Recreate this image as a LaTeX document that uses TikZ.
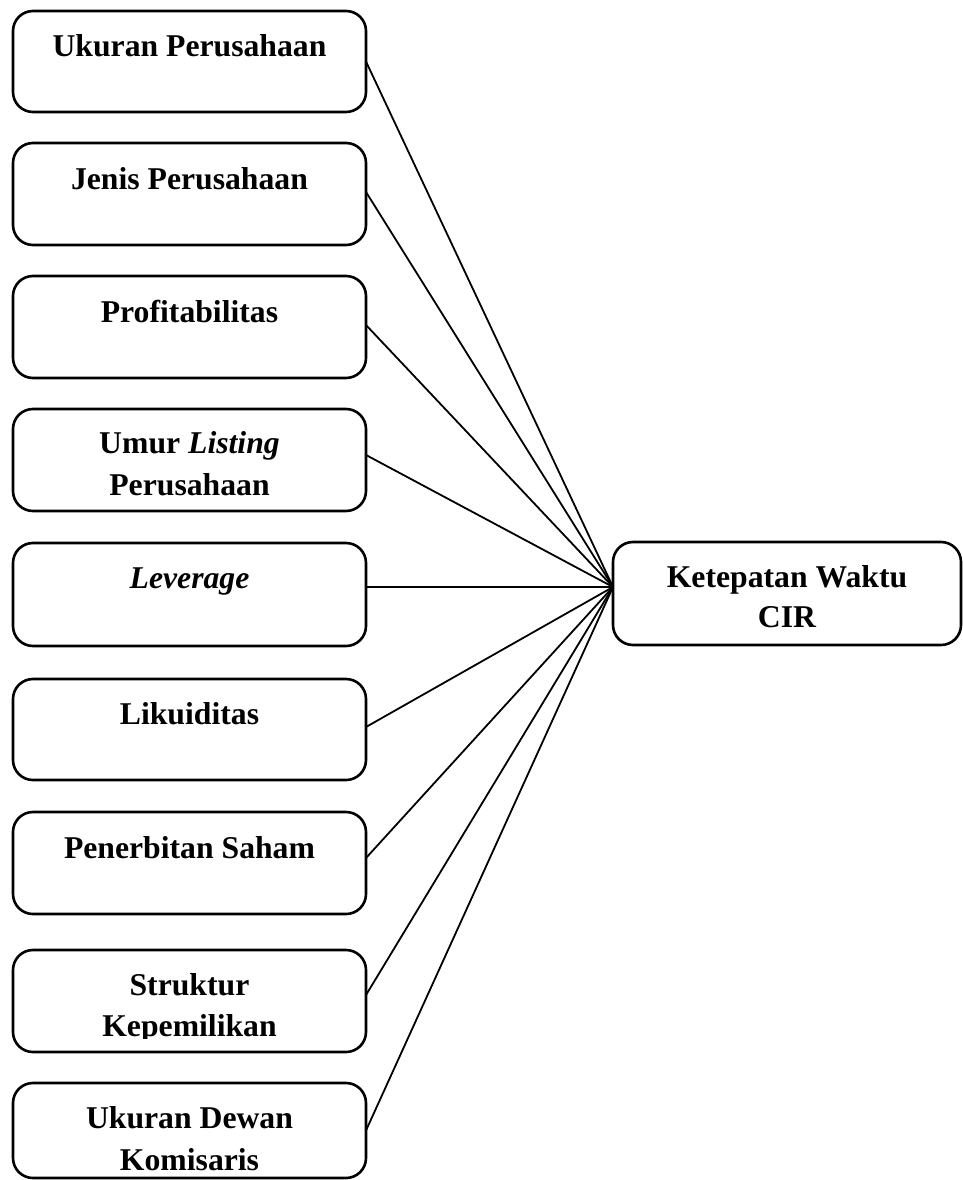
\documentclass[tikz,border=0pt]{standalone}
\usepackage{fontspec}
\setmainfont{Liberation Serif}
\begin{document}
\begin{tikzpicture}[x=1pt,y=-1pt,
  boxshape/.style={draw=black, line width=2.6pt, rounded corners=20pt, inner sep=0pt, outer sep=0pt, rectangle},
  lbl/.style={anchor=base, inner sep=0pt, font=\fontsize{31.7}{40}\selectfont\bfseries},
  conn/.style={draw=black, line width=1.8pt}]
\useasboundingbox (0,0) rectangle (962,1180);
% left boxes: (x 13..366)
\node[boxshape, minimum width=353pt, minimum height=101pt] (b1) at (189.5,61.5) {};
\node[boxshape, minimum width=353pt, minimum height=102pt] (b2) at (189.5,194) {};
\node[boxshape, minimum width=353pt, minimum height=102pt] (b3) at (189.5,327) {};
\node[boxshape, minimum width=353pt, minimum height=102pt] (b4) at (189.5,460) {};
\node[boxshape, minimum width=353pt, minimum height=103pt] (b5) at (189.5,594.5) {};
\node[boxshape, minimum width=353pt, minimum height=101pt] (b6) at (189.5,729.5) {};
\node[boxshape, minimum width=353pt, minimum height=102pt] (b7) at (189.5,863) {};
\node[boxshape, minimum width=353pt, minimum height=102pt] (b8) at (189.5,1001) {};
\node[boxshape, minimum width=353pt, minimum height=95pt] (b9) at (189.5,1130.5) {};
% right box (x 613..961, y 542..645)
\node[boxshape, minimum width=348pt, minimum height=103pt] (c) at (787,593.5) {};
\coordinate (hub) at (613,587);
% labels
\node[lbl] (t1) at (189.5,57) {Ukuran Perusahaan};
\node[lbl] (t2) at (189.5,189) {Jenis Perusahaan};
\node[lbl] (t3) at (189.5,322) {Profitabilitas};
\node[lbl] (t4a) at (189.5,453) {Umur \textit{Listing}};
\node[lbl] (t4b) at (189.5,495) {Perusahaan};
\node[lbl] (t5) at (189.5,588) {\textit{Leverage}};
\node[lbl] (t6) at (189.5,724) {Likuiditas};
\node[lbl] (t7) at (189.5,858) {Penerbitan Saham};
\node[lbl] (t8a) at (189.5,995) {Struktur};
\begin{scope}
\clip (13,1000) rectangle (366,1038);
\node[lbl] (t8b) at (189.5,1036) {Kepemilikan};
\end{scope}
\node[lbl] (t9a) at (189.5,1128) {Ukuran Dewan};
\node[lbl] (t9b) at (189.5,1170) {Komisaris};
\node[lbl] (tca) at (787,587) {Ketepatan Waktu};
\node[lbl] (tcb) at (787,627) {CIR};
% connectors
\draw[conn] (b1.east) -- (hub);
\draw[conn] ([yshift=2pt]b2.east) -- (hub);
\draw[conn] ([yshift=2pt]b3.east) -- (hub);
\draw[conn] ([yshift=5pt]b4.east) -- (hub);
\draw[conn] ([yshift=7.5pt]b5.east) -- (hub);
\draw[conn] ([yshift=2.5pt]b6.east) -- (hub);
\draw[conn] ([yshift=5pt]b7.east) -- (hub);
\draw[conn] ([yshift=6pt]b8.east) -- (hub);
\draw[conn] (b9.east) -- (hub);
\end{tikzpicture}
\end{document}
